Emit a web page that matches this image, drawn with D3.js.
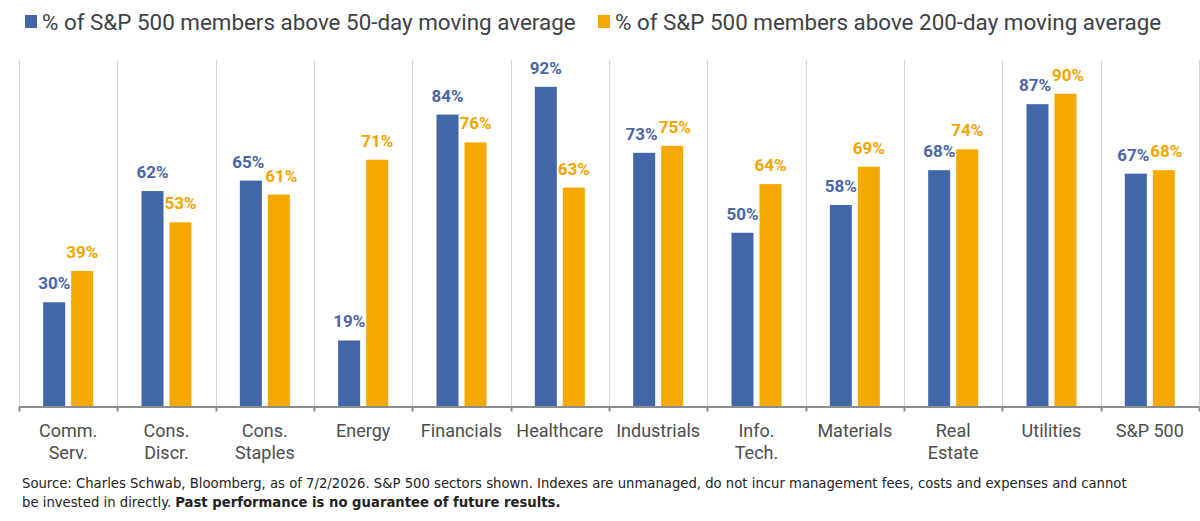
<!DOCTYPE html>
<html>
<head>
<meta charset="utf-8">
<script src="https://cdn.jsdelivr.net/npm/d3@7"></script>
<style>
  html, body { margin: 0; padding: 0; background: #fff; }
  svg { display: block; }
</style>
</head>
<body>
<svg id="chart" width="1200" height="521"></svg>
<script>
const categories = [["Comm.", "Serv."], ["Cons.", "Discr."], ["Cons.", "Staples"], ["Energy"], ["Financials"], ["Healthcare"], ["Industrials"], ["Info.", "Tech."], ["Materials"], ["Real", "Estate"], ["Utilities"], ["S&P 500"]];
const above50 = [30, 62, 65, 19, 84, 92, 73, 50, 58, 68, 87, 67];
const above200 = [39, 53, 61, 71, 76, 63, 75, 64, 69, 74, 90, 68];
const seriesNames = ["% of S&P 500 members above 50-day moving average", "% of S&P 500 members above 200-day moving average"];
const seriesColors = ["#4267a8", "#f5a800"];
const labelColors = ["#4a66a6", "#f2a500"];

(function () {
const svg = d3.select("#chart");
const font = "Roboto, 'Open Sans', sans-serif";

const plotLeft = 19, plotRight = 1199, plotTop = 59, base = 406.5;
const keys = categories.map((c, i) => i);
const x = d3.scaleBand().domain(keys).range([plotLeft, plotRight]).paddingInner(0).paddingOuter(0);
const y = d3.scaleLinear().domain([0, 100]).range([base, plotTop]);
const barW = 22, gap = 6;
const x1 = d3.scaleOrdinal().domain([0, 1]).range([x.bandwidth() / 2 - barW - gap / 2, x.bandwidth() / 2 + gap / 2]);

const bounds = keys.map(k => x(k)).concat([plotRight]);
svg.append("g").selectAll("line").data(bounds).join("line")
  .attr("x1", d => Math.round(d) + 0.5).attr("x2", d => Math.round(d) + 0.5)
  .attr("y1", y(100) + 1).attr("y2", base)
  .attr("stroke", "#d4d4d4").attr("stroke-width", 1);

const series = [above50, above200];
const labelSel = [];
series.forEach((vals, s) => {
  const g = svg.append("g");
  g.selectAll("rect").data(vals).join("rect")
    .attr("x", (d, i) => x(i) + x1(s))
    .attr("y", d => y(d))
    .attr("width", barW)
    .attr("height", d => base - y(d))
    .attr("fill", seriesColors[s]);
  labelSel[s] = g.selectAll("text").data(vals).join("text")
    .attr("x", (d, i) => x(i) + x1(s) + barW / 2)
    .attr("y", d => y(d) - 13)
    .attr("text-anchor", "middle")
    .attr("font-family", font)
    .attr("font-weight", "bold")
    .attr("font-size", 17)
    .attr("fill", labelColors[s])
    .text(d => d + "%");
});

// nudge value labels of a pair apart when they sit at nearly the same height
const n0 = labelSel[0].nodes(), n1 = labelSel[1].nodes();
keys.forEach(i => {
  const a = n0[i], b = n1[i];
  if (Math.abs(+a.getAttribute("y") - +b.getAttribute("y")) < 17) {
    const wa = a.getComputedTextLength(), wb = b.getComputedTextLength();
    const ax = +a.getAttribute("x"), bx = +b.getAttribute("x");
    const overlap = (ax + wa / 2) - (bx - wb / 2);
    if (overlap > 0) {
      a.setAttribute("x", ax - overlap / 2 - 0.5);
      b.setAttribute("x", bx + overlap / 2 + 0.5);
    }
  }
});

const axisG = svg.append("g").attr("transform", `translate(0,${base})`);
axisG.append("line").attr("x1", plotLeft).attr("x2", plotRight).attr("y1", 0.5).attr("y2", 0.5)
  .attr("stroke", "#8c8c8c").attr("stroke-width", 2);
axisG.selectAll("line.tick").data(bounds).join("line").attr("class", "tick")
  .attr("x1", d => Math.round(d) + 0.5).attr("x2", d => Math.round(d) + 0.5)
  .attr("y1", 0).attr("y2", 5).attr("stroke", "#8c8c8c").attr("stroke-width", 2);

const catG = svg.append("g");
catG.selectAll("text").data(categories).join("text")
  .attr("x", (d, i) => x(i) + x.bandwidth() / 2)
  .attr("y", 437)
  .attr("text-anchor", "middle")
  .attr("font-family", font)
  .attr("font-size", 18)
  .attr("fill", "#4d4d4d")
  .each(function(d) {
    const t = d3.select(this);
    d.forEach((line, j) => {
      t.append("tspan").attr("x", t.attr("x")).attr("dy", j === 0 ? 0 : 22).text(line);
    });
  });

const legendX = [25, 598];
seriesNames.forEach((name, s) => {
  svg.append("rect").attr("x", legendX[s]).attr("y", 15).attr("width", 12).attr("height", 13).attr("fill", seriesColors[s]);
  svg.append("text").attr("x", legendX[s] + 17).attr("y", 30)
    .attr("font-family", font).attr("font-size", 22.4).attr("fill", "#3d3f44")
    .text(name);
});

const footFont = "'Liberation Sans Narrow', 'DejaVu Sans Condensed', 'Roboto Condensed', sans-serif";
svg.append("text").attr("x", 22).attr("y", 488).attr("font-family", footFont).attr("font-size", 14.7).attr("fill", "#222")
  .text("Source: Charles Schwab, Bloomberg, as of 7/2/2026. S&P 500 sectors shown. Indexes are unmanaged, do not incur management fees, costs and expenses and cannot");
const f2 = svg.append("text").attr("x", 22).attr("y", 507).attr("font-family", footFont).attr("font-size", 14.7).attr("fill", "#222");
f2.append("tspan").text("be invested in directly. ");
f2.append("tspan").attr("font-weight", "bold").text("Past performance is no guarantee of future results.");
})();
</script>
</body>
</html>
